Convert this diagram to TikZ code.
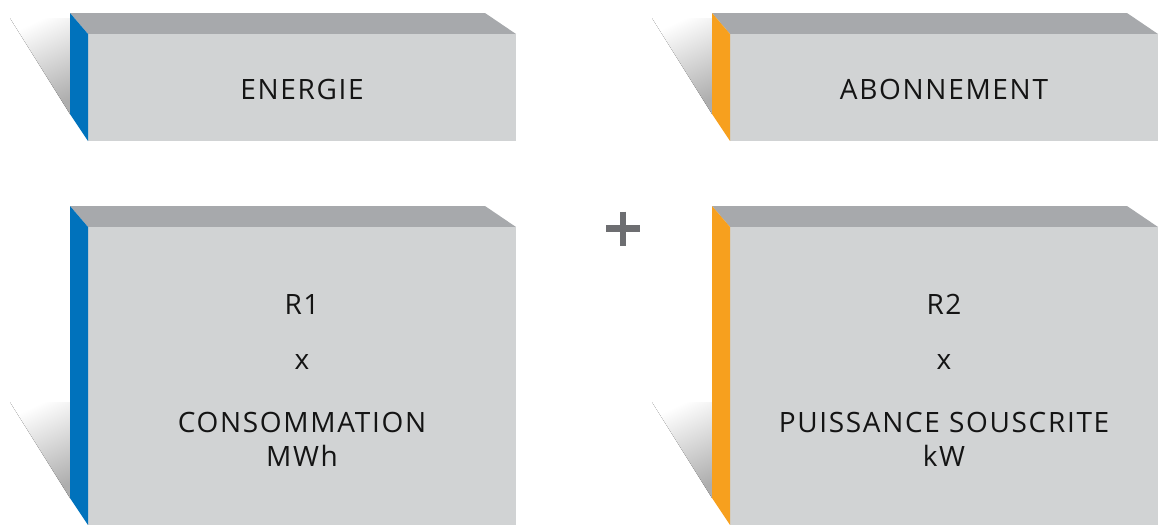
\documentclass[tikz,border=0pt]{standalone}
\usepackage{fontspec}
\setmainfont[LetterSpace=6]{Open Sans}
\definecolor{frontgray}{RGB}{209,211,212}
\definecolor{topgray}{RGB}{167,169,172}
\definecolor{eblue}{RGB}{0,114,188}
\definecolor{eorange}{RGB}{247,160,30}
\definecolor{plusgray}{RGB}{109,110,113}
\definecolor{txt}{RGB}{20,20,20}
\tikzset{
  shadowfill/.style={shading=axis,top color=white,bottom color=black!32,shading angle=25},
  label/.style={anchor=base,inner sep=0pt,text=txt,font=\fontsize{21}{23}\selectfont},
  plusline/.style={line width=4.6pt,draw=plusgray},
}
\newcommand\drawcube[5]{%
  \fill[shadowfill] (#1-60,#4-123) -- (#1,#4-123) -- (#1,#4-27) -- cycle;
  \fill[topgray] (#1,#2) -- (#3-31,#2) -- (#3,#2+21) -- (#1+18,#2+21) -- cycle;
  \fill[frontgray] (#1+18,#2+21) rectangle (#3,#4);
  \fill[#5] (#1,#2) -- (#1+18,#2+21) -- (#1+18,#4) -- (#1,#4-27) -- cycle;
}
\begin{document}
\begin{tikzpicture}[x=0.75pt,y=-0.75pt]
  \useasboundingbox (0,0) rectangle (1172,525);
  \drawcube{70}{13}{516}{141}{eblue}
  \drawcube{712}{13}{1158}{141}{eorange}
  \drawcube{70}{206}{516}{525}{eblue}
  \drawcube{712}{206}{1158}{525}{eorange}
  \node[label] (energie) at (302,99) {ENERGIE};
  \node[label] (abon) at (944,99) {ABONNEMENT};
  \node[label] (r1) at (302,314) {R1};
  \node[label] (x1) at (302,369) {x};
  \node[label] (conso) at (302,432) {CONSOMMATION};
  \node[label] (mwh) at (302,466) {MWh};
  \node[label] (r2) at (944,314) {R2};
  \node[label] (x2) at (944,369) {x};
  \node[label] (puis) at (944,432) {PUISSANCE SOUSCRITE};
  \node[label] (kw) at (944,466) {kW};
  \coordinate (plus) at (623,228.5);
  \draw[plusline] ([xshift=-17*0.75pt]plus) -- ([xshift=17*0.75pt]plus);
  \draw[plusline] ([yshift=17*0.75pt]plus) -- ([yshift=-17*0.75pt]plus);
\end{tikzpicture}
\end{document}
